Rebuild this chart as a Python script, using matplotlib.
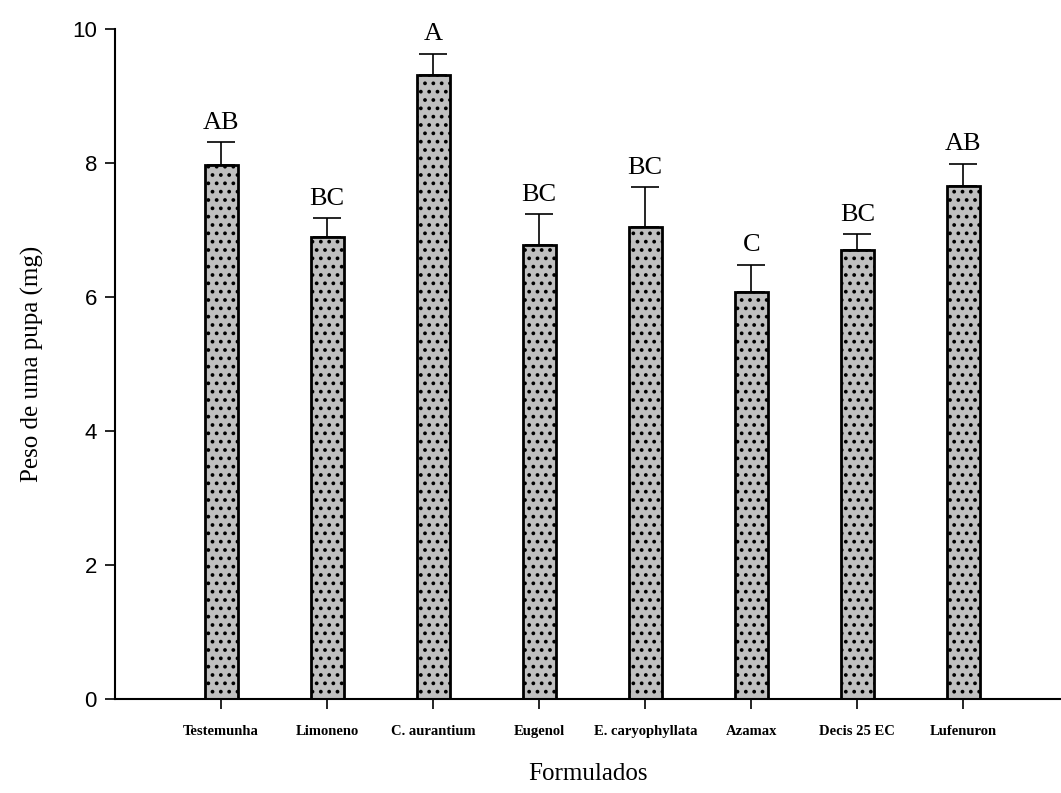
import numpy as np
import matplotlib.pyplot as plt

tratamentos = ["Testemunha", "Limoneno", "C. aurantium", "Eugenol",
               "E. caryophyllata", "Azamax", "Decis 25 EC", "Lufenuron"]
peso = [7.97, 6.90, 9.31, 6.78, 7.04, 6.07, 6.70, 7.65]
erro = [0.34, 0.28, 0.32, 0.46, 0.60, 0.41, 0.24, 0.34]
letras = ["AB", "BC", "A", "BC", "BC", "C", "BC", "AB"]

plt.rcParams['hatch.color'] = '#383838'
plt.rcParams['hatch.linewidth'] = 1.5

fig = plt.figure(figsize=(10.61, 7.93), dpi=100)
ax = fig.add_axes([0.1084, 0.1185, 0.8916, 0.845])

x = np.arange(len(tratamentos))
ax.bar(x, peso, width=0.31, color='#c0c0c0', edgecolor='black',
       linewidth=2, hatch='..', zorder=2)
ax.errorbar(x, peso, yerr=[np.zeros(len(x)), erro], fmt='none',
            ecolor='black', elinewidth=1.2, capsize=10, capthick=1.2, zorder=3)

for xi, v, e, l in zip(x, peso, erro, letras):
    ax.annotate(l, (xi, v + e), xytext=(0, 6), textcoords='offset points',
                ha='center', va='bottom', fontsize=19, family='Liberation Serif')

ax.set_xlim(-1, 7.92)
ax.set_ylim(0, 10)
ax.set_yticks([0, 2, 4, 6, 8, 10])
ax.set_xticks(x)
ax.set_xticklabels(tratamentos, family='Liberation Serif', fontweight='bold',
                   fontsize=10.5)
for t in ax.get_yticklabels():
    t.set_family('Liberation Sans')
    t.set_fontsize(16)
ax.tick_params(axis='x', direction='out', length=7, width=1.2, pad=12)
ax.tick_params(axis='y', direction='out', length=7, width=1.2, pad=6)
ax.spines['top'].set_visible(False)
ax.spines['right'].set_visible(False)
ax.spines['left'].set_linewidth(1.5)
ax.spines['bottom'].set_linewidth(1.5)

ax.set_ylabel("Peso de uma pupa (mg)", family='Liberation Serif', fontsize=18,
              labelpad=20)
ax.set_xlabel("Formulados", family='Liberation Serif', fontsize=18, labelpad=18)

fig.savefig('out.png', dpi=100)
